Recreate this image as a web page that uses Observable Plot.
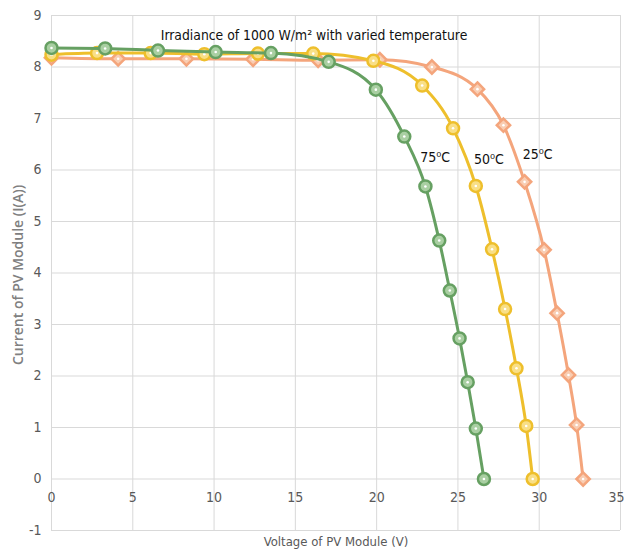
<!DOCTYPE html>
<html>
<head>
<meta charset="utf-8">
<script src="https://cdn.jsdelivr.net/npm/d3@7"></script>
<script src="https://cdn.jsdelivr.net/npm/@observablehq/plot@0.6"></script>
<style>
  html, body { margin: 0; padding: 0; background: #fff; }
  #chart { width: 624px; height: 556px; }
</style>
</head>
<body>
<div id="chart"></div>
<script>
// I–V characteristic of a PV module at 1000 W/m² for three cell temperatures
const voltage25 = [0, 4.1, 8.3, 12.4, 16.4, 20.2, 23.4, 26.2, 27.8, 29.1, 30.3, 31.1, 31.8, 32.3, 32.7];
const current25 = [8.18, 8.16, 8.16, 8.15, 8.13, 8.14, 8.0, 7.57, 6.87, 5.77, 4.45, 3.22, 2.02, 1.05, 0];

const voltage50 = [0, 2.8, 6.1, 9.4, 12.7, 16.1, 19.8, 22.8, 24.7, 26.1, 27.1, 27.9, 28.6, 29.2, 29.6];
const current50 = [8.24, 8.27, 8.27, 8.25, 8.26, 8.26, 8.12, 7.64, 6.81, 5.69, 4.46, 3.30, 2.15, 1.03, 0];

const voltage75 = [0, 3.3, 6.55, 10.1, 13.5, 17.05, 19.95, 21.7, 23.0, 23.85, 24.5, 25.1, 25.6, 26.1, 26.6];
const current75 = [8.37, 8.36, 8.32, 8.29, 8.27, 8.10, 7.56, 6.65, 5.68, 4.63, 3.66, 2.73, 1.88, 0.98, 0];

const seriesNames = ["25⁰C", "50⁰C", "75⁰C"];
const labelVoltage = [29.9, 26.9, 23.6];
const labelCurrent = [6.3, 6.2, 6.25];

const xTicks = [0, 5, 10, 15, 20, 25, 30, 35];
const yTicks = [-1, 0, 1, 2, 3, 4, 5, 6, 7, 8, 9];

const chartTitle = "Irradiance of 1000 W/m² with varied temperature";
const xTitle = "Voltage of PV Module (V)";
const yTitle = "Current of PV Module (I(A))";

const styles = {
  "25⁰C": {stroke: "#f4a57c", fill: "#f9cdb2", symbol: "diamond2", r: 6},
  "50⁰C": {stroke: "#eebf2c", fill: "#f9df86", symbol: "circle", r: 6},
  "75⁰C": {stroke: "#66a062", fill: "#a9cfa2", symbol: "circle", r: 6}
};

const rows = (name, vs, is) => vs.map((v, k) => ({series: name, v, i: is[k]}));
const s25 = rows("25⁰C", voltage25, current25);
const s50 = rows("50⁰C", voltage50, current50);
const s75 = rows("75⁰C", voltage75, current75);

const narrow = "'Liberation Sans Narrow', 'DejaVu Sans Condensed', sans-serif";

function seriesMarks(data) {
  const st = styles[data[0].series];
  return [
    Plot.line(data, {x: "v", y: "i", stroke: st.stroke, strokeWidth: 3, curve: "monotone-x"}),
    Plot.dot(data, {x: "v", y: "i", symbol: st.symbol, r: st.r, fill: st.fill, stroke: st.stroke, strokeWidth: 2.5}),
    Plot.dot(data, {x: "v", y: "i", r: 1.3, fill: "#fff", stroke: null})
  ];
}

const labels = seriesNames.map((s, k) => ({s, v: labelVoltage[k], i: labelCurrent[k]}));
const lastTick = xTicks[xTicks.length - 1];

const chart = Plot.plot({
  width: 624,
  height: 556,
  marginLeft: 51,
  marginRight: 4,
  marginTop: 15,
  marginBottom: 26,
  style: {fontFamily: narrow, background: "#fff"},
  x: {domain: [0, 35]},
  y: {domain: [-1, 9]},
  marks: [
    Plot.gridX(xTicks, {stroke: "#d9d9d9", strokeOpacity: 1, strokeWidth: 1}),
    Plot.gridY(yTicks, {stroke: "#d9d9d9", strokeOpacity: 1, strokeWidth: 1}),
    Plot.axisY(yTicks, {tickSize: 0, tickPadding: 10, tickFormat: d => String(d), fontSize: 14, fill: "#595959", label: null}),
    Plot.axisX({ticks: [], label: null, tickSize: 0}),
    // horizontal-axis labels sit on the I = 0 line
    Plot.text(xTicks.slice(0, -1), {x: d => d, y: 0, dy: 19, text: d => String(d), fontSize: 14, fill: "#595959"}),
    Plot.text([lastTick], {x: d => d, y: 0, dy: 19, dx: 4, textAnchor: "end", text: d => String(d), fontSize: 14, fill: "#595959"}),
    ...seriesMarks(s25),
    ...seriesMarks(s50),
    ...seriesMarks(s75),
    Plot.text(labels, {x: "v", y: "i", text: "s", fontSize: 14, fill: "#111"}),
    Plot.text([chartTitle], {frameAnchor: "top", dy: 15, dx: -22, text: d => d, fontSize: 13.8, fill: "#111"}),
    Plot.text([xTitle], {frameAnchor: "bottom", dy: 15, text: d => d, fontSize: 13, fill: "#595959"}),
    Plot.text([yTitle], {frameAnchor: "left", textAnchor: "middle", dx: -33, dy: 2, rotate: -90, text: d => d, fontSize: 14, fontWeight: 600, fill: "#808080", fontFamily: "'Open Sans', sans-serif"})
  ]
});

document.getElementById("chart").appendChild(chart);
</script>
</body>
</html>
